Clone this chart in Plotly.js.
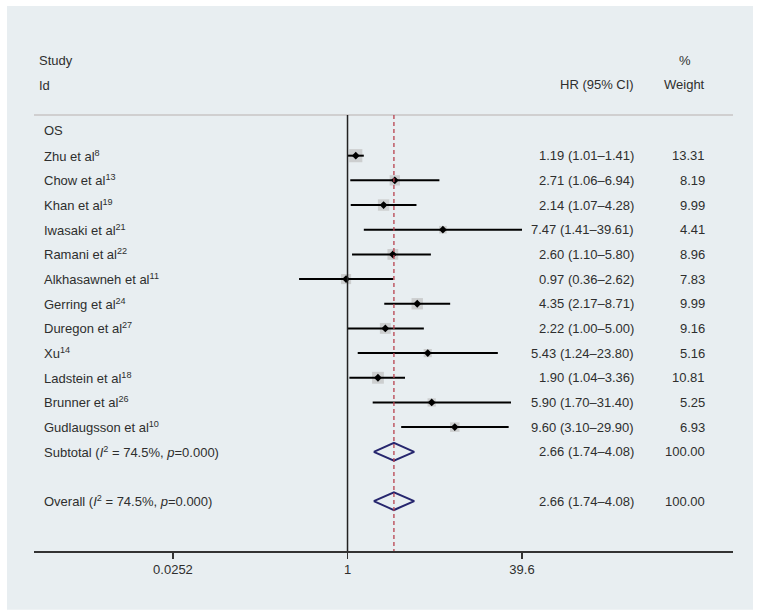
<!DOCTYPE html>
<html>
<head>
<meta charset="utf-8">
<script src="https://cdn.plot.ly/plotly-3.0.1.min.js"></script>
<style>html,body{margin:0;padding:0;background:#fff;}#chart{width:761px;height:614px;}</style>
</head>
<body>
<div id="chart"></div>
<script>
// ---- data ----
const groupLabel = "OS";
const studyNames = ["Zhu et al", "Chow et al", "Khan et al", "Iwasaki et al", "Ramani et al", "Alkhasawneh et al",
  "Gerring et al", "Duregon et al", "Xu", "Ladstein et al", "Brunner et al", "Gudlaugsson et al"];
const studyRefs = ["8", "13", "19", "21", "22", "11", "24", "27", "14", "18", "26", "10"];
const hr = [1.19, 2.71, 2.14, 7.47, 2.60, 0.97, 4.35, 2.22, 5.43, 1.90, 5.90, 9.60];
const ciLow = [1.01, 1.06, 1.07, 1.41, 1.10, 0.36, 2.17, 1.00, 1.24, 1.04, 1.70, 3.10];
const ciHigh = [1.41, 6.94, 4.28, 39.61, 5.80, 2.62, 8.71, 5.00, 23.80, 3.36, 31.40, 29.90];
const weights = [13.31, 8.19, 9.99, 4.41, 8.96, 7.83, 9.99, 9.16, 5.16, 10.81, 5.25, 6.93];
const pooledLabels = ["Subtotal (<i>I</i><sup>2</sup> = 74.5%, <i>p</i>=0.000)", "Overall (<i>I</i><sup>2</sup> = 74.5%, <i>p</i>=0.000)"];
const pooledHR = [2.66, 2.66];
const pooledLow = [1.74, 1.74];
const pooledHigh = [4.08, 4.08];
const pooledWeight = [100.00, 100.00];
const tickVals = [0.0252, 1, 39.6];
const tickText = ["0.0252", "1", "39.6"];

// ---- layout helpers ----
const studyRows = studyNames.map((_, i) => i + 1);
const pooledRows = [studyNames.length + 1, studyNames.length + 3];
const yRange = [17.02, -3.89];
const headerLineY = -0.65;
const txtColor = "#2e2e2e";
const fontFam = "Liberation Sans, Arial, sans-serif";
const fs = 13;

// CI lines
const ciX = [], ciY = [];
studyRows.forEach((r, i) => { ciX.push(ciLow[i], ciHigh[i], null); ciY.push(r, r, null); });

// diamonds
const diaX = [], diaY = [];
const dh = 0.36;
pooledRows.forEach((r, i) => {
  diaX.push(pooledLow[i], pooledHR[i], pooledHigh[i], pooledHR[i], pooledLow[i], null);
  diaY.push(r, r - dh, r, r + dh, r, null);
});

const traces = [
  {type: "scatter", mode: "markers", x: hr, y: studyRows,
   marker: {symbol: "square", size: weights.map(w => 3.6 * Math.sqrt(w)), color: "#c0c0c0", line: {width: 0}},
   hoverinfo: "skip", showlegend: false},
  {type: "scatter", mode: "lines", x: ciX, y: ciY, line: {color: "#000", width: 2}, hoverinfo: "skip", showlegend: false},
  {type: "scatter", mode: "markers", x: hr, y: studyRows,
   marker: {symbol: "diamond", size: 6, color: "#000"}, hoverinfo: "skip", showlegend: false},
  {type: "scatter", mode: "lines", x: diaX, y: diaY, line: {color: "#26266e", width: 2}, hoverinfo: "skip", showlegend: false}
];

const ann = [];
function addText(text, xp, y, anchor) {
  ann.push({text: text, xref: "paper", yref: "y", x: xp, y: y, xanchor: anchor, yanchor: "middle",
    showarrow: false, font: {family: fontFam, size: fs, color: txtColor}});
}
// headers
addText("Study", 0.004, -2.84, "left");
addText("Id", 0.004, -1.86, "left");
addText("%", 0.931, -2.84, "center");
addText("HR (95% CI)", 0.861, -1.9, "right");
addText("Weight", 0.963, -1.9, "right");
addText(groupLabel, 0.011, 0, "left");
studyRows.forEach((r, i) => {
  addText(studyNames[i] + "<sup>" + studyRefs[i] + "</sup>", 0.011, r, "left");
  addText(hr[i].toFixed(2) + " (" + ciLow[i].toFixed(2) + "–" + ciHigh[i].toFixed(2) + ")", 0.861, r, "right");
  addText(weights[i].toFixed(2), 0.963, r, "right");
});
pooledRows.forEach((r, i) => {
  addText(pooledLabels[i], 0.011, r, "left");
  addText(pooledHR[i].toFixed(2) + " (" + pooledLow[i].toFixed(2) + "–" + pooledHigh[i].toFixed(2) + ")", 0.861, r, "right");
  addText(pooledWeight[i].toFixed(2), 0.963, r, "right");
});

const shapes = [
  // outer light panel
  {type: "rect", xref: "paper", yref: "paper", x0: -0.0386, x1: 1.0286, y0: -0.114, y1: 1.056,
   fillcolor: "#e8eef1", line: {width: 0}, layer: "below"},
  // header separator
  {type: "line", xref: "paper", yref: "y", x0: 0, x1: 1, y0: headerLineY, y1: headerLineY,
   line: {color: "#c8c4c4", width: 1.5}},
  // null line
  {type: "line", xref: "x", yref: "y", x0: 1, x1: 1, y0: headerLineY, y1: yRange[0],
   line: {color: "#222", width: 1.5}},
  // pooled estimate line
  {type: "line", xref: "x", yref: "y", x0: pooledHR[1], x1: pooledHR[1], y0: headerLineY, y1: yRange[0],
   line: {color: "#b8404e", width: 1.3, dash: "4px,3px"}}
];

const layout = {
  width: 761, height: 614,
  margin: {l: 34, r: 28, t: 35, b: 63},
  paper_bgcolor: "#ffffff",
  plot_bgcolor: "#ffffff",
  showlegend: false,
  xaxis: {type: "log", range: [-2.871, 3.530], tickvals: tickVals, ticktext: tickText,
    ticks: "outside", ticklen: 6, tickwidth: 1.5, tickcolor: "#333",
    showline: true, linecolor: "#333", linewidth: 1.5, showgrid: false, zeroline: false,
    tickfont: {family: fontFam, size: fs, color: txtColor}, fixedrange: true},
  yaxis: {range: yRange, visible: false, showgrid: false, zeroline: false, fixedrange: true},
  annotations: ann,
  shapes: shapes
};

Plotly.newPlot("chart", traces, layout, {displayModeBar: false, staticPlot: true});
</script>
</body>
</html>
